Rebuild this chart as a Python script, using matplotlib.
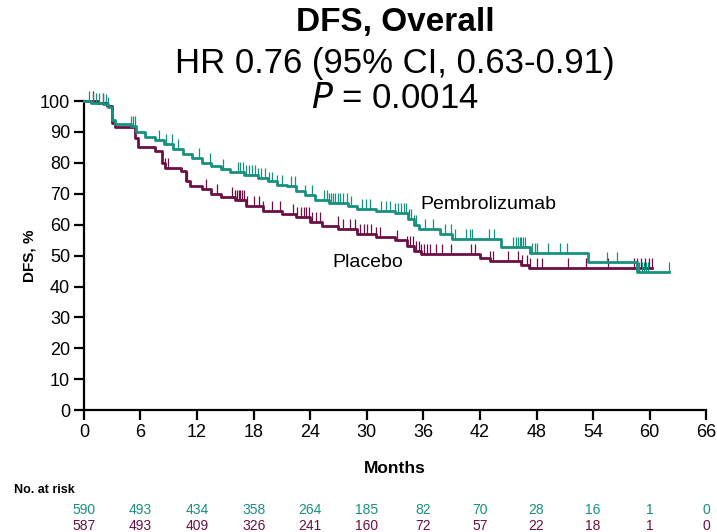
import numpy as np
import matplotlib.pyplot as plt

plt.rcParams['font.family'] = ['Liberation Sans', 'DejaVu Sans']

# Kaplan-Meier steps: (month, DFS % after the drop)
pembro_t = [0, 0.8, 2.0, 2.6, 3.0, 3.3, 5.0, 5.5, 6.5, 7.5, 8.5, 9.5, 10.5, 11.5,
            12.5, 13.5, 14.5, 15.5, 17.0, 18.5, 19.5, 20.5, 21.5, 22.5, 23.5, 24.5,
            26.0, 28.0, 29.0, 31.0, 33.0, 34.4, 35.0, 35.5, 37.8, 39.0, 44.2, 47.3,
            53.5, 58.7]
pembro_s = [100, 99.5, 99, 98, 94, 92.5, 92, 90, 88.5, 87.5, 86, 84.5, 83, 81.5,
            80, 79, 78, 77, 76, 75, 74, 73, 72.5, 71, 69.5, 68,
            67, 66, 65, 64.5, 63.8, 62, 60, 58.5, 57, 55.5, 52.8, 51,
            47.9, 44.7]
pembro_end = 62.0

placebo_t = [0, 1.5, 2.5, 3.0, 3.3, 5.4, 5.7, 7.5, 8.3, 8.6, 10.3, 10.8, 11.2,
             12.5, 13.5, 14.5, 16.0, 17.2, 19.0, 21.0, 22.5, 24.0, 25.3, 27.0,
             29.0, 31.0, 33.0, 34.3, 35.0, 35.7, 42.0, 43.1, 46.4, 47.2]
placebo_s = [100, 99.5, 98.5, 93, 91.5, 88, 85, 84, 80, 78.5, 77.5, 74, 72.5,
             71.5, 70, 69, 68, 66, 64.5, 63.5, 62.5, 61, 59.5, 58.5,
             57, 56, 55, 53, 51.5, 50.5, 49.2, 48.2, 47, 46]
placebo_end = 60.3

pembro_cens = [0.5, 1.0, 1.3, 1.6, 2.0, 2.3, 2.6, 5.0, 5.2, 5.4, 8.0, 8.7, 9.3, 10.0,
               12.2, 13.4, 14.8, 16.3, 16.6, 16.9, 17.2, 17.5, 17.8, 18.1, 18.5, 18.8,
               19.2, 19.6, 20.0, 20.5, 21.0, 22.0, 22.4, 23.5, 24.2, 25.5, 25.8, 26.0,
               26.2, 26.4, 26.6, 26.9, 27.2, 27.5, 27.9, 28.3, 29.5, 29.9, 30.3, 31.5,
               32.0, 32.5, 33.0, 33.3, 33.6, 33.9, 34.2, 34.5, 34.7, 35.0, 35.2, 36.2,
               37.0, 38.3, 38.9, 39.4, 40.5, 40.9, 41.2, 43.0, 43.5, 45.5, 45.8, 46.0,
               46.2, 46.4, 46.6, 46.8, 47.5, 47.8, 48.1, 49.2, 50.5, 51.2, 55.5, 56.5,
               58.7, 58.9, 59.2, 59.4, 59.6, 59.8, 62.0]
placebo_cens = [1.0, 2.0, 8.6, 8.9, 10.9, 13.0, 14.1, 15.7, 16.0, 16.2, 16.4, 16.6,
                16.8, 17.0, 17.3, 18.0, 18.6, 19.0, 20.0, 20.8, 22.2, 22.6, 23.0, 23.3,
                23.6, 23.9, 24.2, 24.6, 25.0, 26.9, 27.5, 28.2, 28.8, 29.3, 29.7, 30.0,
                30.4, 31.0, 31.4, 33.2, 34.3, 34.6, 34.9, 35.2, 35.5, 35.8, 36.1, 36.4,
                36.7, 37.3, 38.0, 38.9, 41.0, 41.5, 43.1, 43.4, 45.0, 46.0, 46.5, 47.0,
                47.3, 48.0, 48.6, 51.3, 53.2, 55.6, 58.3, 58.7, 59.1, 59.5, 59.9, 60.3]

months = [0, 6, 12, 18, 24, 30, 36, 42, 48, 54, 60, 66]
risk_pembro = [590, 493, 434, 358, 264, 185, 82, 70, 28, 16, 1, 0]
risk_placebo = [587, 493, 409, 326, 241, 160, 72, 57, 22, 18, 1, 0]

teal = '#17907f'
plum = '#6b1044'

fig = plt.figure(figsize=(7.17, 5.32), dpi=100)
ax = fig.add_axes([0.117, 0.229, 0.868, 0.581])


def draw_arm(t, s, end, cens, color):
    tt = np.append(t, end)
    ss = np.append(s, s[-1])
    ax.step(tt, ss, where='post', color=color, lw=2.0, clip_on=False, zorder=3)
    idx = np.searchsorted(t, cens, side='right') - 1
    cs = np.array(s)[idx]
    ax.vlines(cens, cs, cs + 3.2, color=color, lw=0.9, clip_on=False, zorder=3)


draw_arm(placebo_t, placebo_s, placebo_end, placebo_cens, plum)
draw_arm(pembro_t, pembro_s, pembro_end, pembro_cens, teal)

ax.set_xlim(0, 66)
ax.set_ylim(0, 100)
ax.set_xticks(months)
ax.set_yticks(range(0, 101, 10))
for sp in ['top', 'right']:
    ax.spines[sp].set_visible(False)
for sp in ['left', 'bottom']:
    ax.spines[sp].set_linewidth(1.6)
ax.tick_params(direction='out', length=7, width=1.6, labelsize=13, pad=3)

ax.set_ylabel('DFS, %', fontsize=11, fontweight='bold', labelpad=2)

ax.text(35.7, 66.5, 'Pembrolizumab', fontsize=14, va='center', ha='left')
ax.text(26.4, 47.8, 'Placebo', fontsize=14, va='center', ha='left')

tr = ax.get_xaxis_transform()
ax.text(33, -0.188, 'Months', transform=tr, ha='center', va='center',
        fontsize=12.5, fontweight='bold')
ax.text(-0.113, -0.258, 'No. at risk', transform=ax.transAxes, ha='left', va='center',
        fontsize=9, fontweight='bold')
for m, a, b in zip(months, risk_pembro, risk_placebo):
    ax.text(m, -0.322, str(a), transform=tr, ha='center', va='center',
            fontsize=10, color=teal)
    ax.text(m, -0.375, str(b), transform=tr, ha='center', va='center',
            fontsize=10, color=plum)

cx = 0.117 + 0.868 / 2
fig.text(cx, 0.958, 'DFS, Overall', ha='center', va='center', fontsize=24,
         fontweight='bold')
fig.text(cx, 0.880, 'HR 0.76 (95% CI, 0.63-0.91)', ha='center', va='center',
         fontsize=25)
fig.text(cx, 0.815, '$\\it{P}$ = 0.0014', ha='center', va='center', fontsize=25)

fig.savefig('out.png', dpi=100)
